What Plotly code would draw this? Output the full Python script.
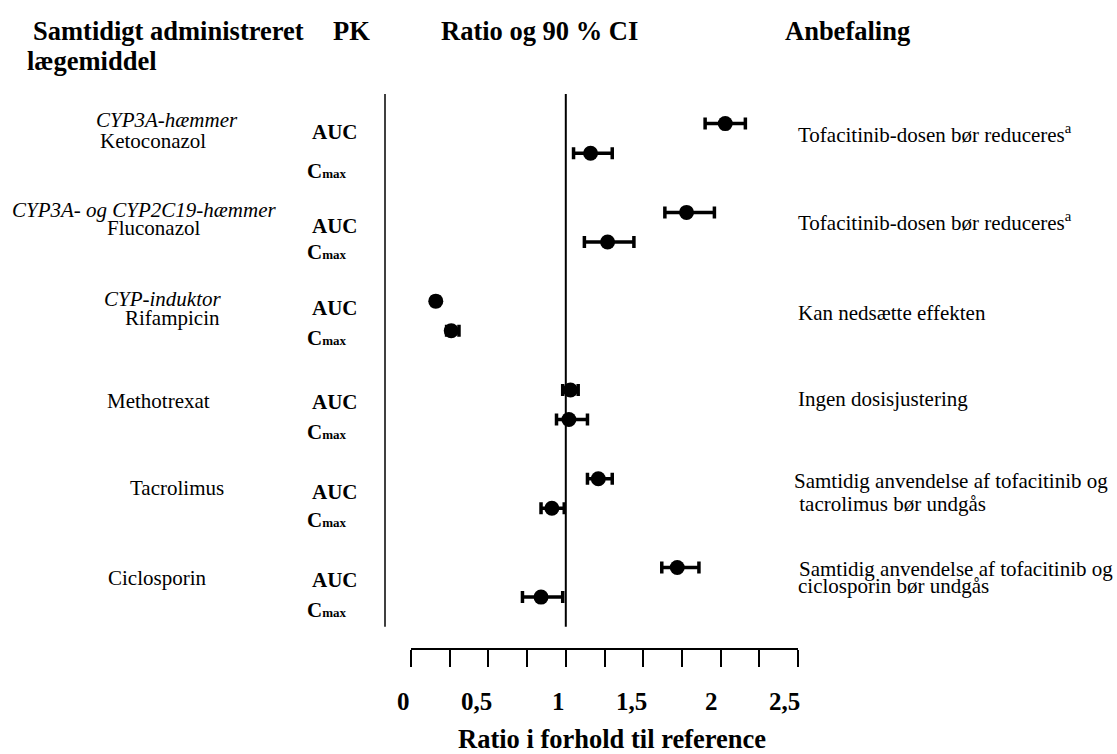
import plotly.graph_objects as go

# ---------------- data ----------------
drugs = ["Ketoconazol", "Fluconazol", "Rifampicin", "Methotrexat", "Tacrolimus", "Ciclosporin"]
drug_classes = ["CYP3A-hæmmer", "CYP3A- og CYP2C19-hæmmer", "CYP-induktor", "", "", ""]
pk_params = ["AUC", "C<span style='font-size:13px'>max</span>"]

auc_ratio = [2.03, 1.78, 0.16, 1.03, 1.21, 1.72]
auc_lo = [1.90, 1.64, 0.14, 0.98, 1.14, 1.62]
auc_hi = [2.16, 1.96, 0.18, 1.08, 1.30, 1.86]

cmax_ratio = [1.16, 1.27, 0.26, 1.02, 0.91, 0.84]
cmax_lo = [1.05, 1.12, 0.23, 0.94, 0.84, 0.72]
cmax_hi = [1.30, 1.44, 0.31, 1.14, 0.99, 0.98]

recommendations = [
    ["Tofacitinib-dosen bør reduceres<sup>a</sup>"],
    ["Tofacitinib-dosen bør reduceres<sup>a</sup>"],
    ["Kan nedsætte effekten"],
    ["Ingen dosisjustering"],
    ["Samtidig anvendelse af tofacitinib og", " tacrolimus bør undgås"],
    ["Samtidig anvendelse af tofacitinib og", "ciclosporin bør undgås"],
]

x_ticks = [0, 0.5, 1, 1.5, 2, 2.5]
x_tick_text = ["0", "0,5", "1", "1,5", "2", "2,5"]
reference_value = 1

headers = ["Samtidigt administreret", "lægemiddel", "PK", "Ratio og 90 % CI", "Anbefaling"]
x_title = "Ratio i forhold til reference"

# ---------------- layout geometry (pixels) ----------------
W, H = 1117, 754
L, R, T, B = 411, 319, 94, 106
PW, PH = W - L - R, H - T - B


def px(x):
    return (x - L) / PW


def py(y):
    return (H - B - y) / PH


SERIF = "Liberation Serif, Times New Roman, serif"

auc_rows = [3 * i for i in range(len(drugs))]
cmax_rows = [3 * i + 1 for i in range(len(drugs))]

fig = go.Figure()


def add_series(xs, lo, hi, rows):
    fig.add_trace(go.Scatter(
        x=xs, y=rows, mode="markers",
        marker=dict(color="black", size=15, symbol="circle"),
        error_x=dict(type="data", symmetric=False,
                     array=[h - v for h, v in zip(hi, xs)],
                     arrayminus=[v - l for v, l in zip(xs, lo)],
                     color="black", thickness=3.5, width=6),
        showlegend=False, hoverinfo="x",
    ))


add_series(auc_ratio, auc_lo, auc_hi, auc_rows)
add_series(cmax_ratio, cmax_lo, cmax_hi, cmax_rows)

shapes = [
    dict(type="line", xref="x", yref="y", x0=reference_value, x1=reference_value,
         y0=-1, y1=17, line=dict(color="black", width=2)),
    dict(type="line", xref="paper", yref="y", x0=px(385), x1=px(385),
         y0=-1, y1=17, line=dict(color="black", width=1.5)),
]

ann = []


def text(x, y, s, size, bold=False, italic=False, xanchor="center"):
    ann.append(dict(
        x=px(x), y=py(y), xref="paper", yref="paper", text=s, showarrow=False,
        xanchor=xanchor, yanchor="middle",
        font=dict(family=SERIF, size=size, color="black",
                  weight="bold" if bold else "normal",
                  style="italic" if italic else "normal"),
    ))


HEAD = 26.5
# headers
text(168.5, 31, headers[0], HEAD, bold=True)
text(92, 61, headers[1], HEAD, bold=True)
text(351, 31, headers[2], HEAD, bold=True)
text(539, 31, headers[3], HEAD, bold=True)
text(847, 31, headers[4], HEAD, bold=True)

# left column: class (italic) and drug names
class_pos = [(167, 120), (144, 210), (162, 299)]
drug_pos = [(153, 141), (153.5, 228), (172, 318), (158, 401), (176.7, 488), (157, 578)]
for i, d in enumerate(drugs):
    if drug_classes[i]:
        cx, cy = class_pos[i]
        text(cx, cy, drug_classes[i], 21, italic=True)
    dx, dy = drug_pos[i]
    text(dx, dy, d, 21)

# PK column
auc_label_y = [131.7, 226, 308, 402, 492, 580]
cmax_label_y = [171, 251.7, 338, 432, 520, 610]
for i in range(len(drugs)):
    text(360, auc_label_y[i], pk_params[0], 21, bold=True, xanchor="right")
    text(305, cmax_label_y[i], pk_params[1], 21, bold=True, xanchor="left")

# recommendations
rec_pos = [[(796, 133)], [(796, 221)], [(796, 312.5)], [(796, 398.5)],
           [(791.7, 481.5), (791.7, 503.7)], [(796.7, 568.5), (796, 585.5)]]
for lines, poss in zip(recommendations, rec_pos):
    for s, (rx, ry) in zip(lines, poss):
        text(rx, ry, s, 21, xanchor="left")

# x tick labels (offset like the reference)
tick_label_x = [403, 476.7, 558, 631.7, 711.7, 784]
for lx, s in zip(tick_label_x, x_tick_text):
    text(lx, 701.5, s, 25, bold=True)

text(611.7, 739, x_title, 26.5, bold=True)

fig.update_layout(
    width=W, height=H,
    margin=dict(l=L, r=R, t=T, b=B, pad=0),
    paper_bgcolor="white", plot_bgcolor="white",
    xaxis=dict(range=[0, 2.5], showgrid=False, zeroline=False,
               showline=True, linecolor="black", linewidth=2,
               ticks="outside", ticklen=17, tickwidth=2, tickcolor="black",
               tick0=0, dtick=0.25, showticklabels=False, fixedrange=True),
    yaxis=dict(range=[17.72, -1], visible=False, fixedrange=True),
    shapes=shapes, annotations=ann, showlegend=False,
)

fig.write_html("out.html", config={"displayModeBar": False},
               post_script="document.body.style.margin='0';document.body.style.padding='0';document.body.style.overflow='hidden';")
